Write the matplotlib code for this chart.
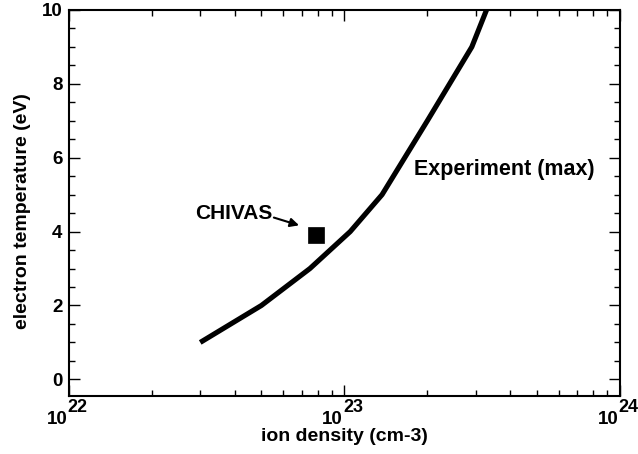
import matplotlib
matplotlib.use("Agg")
import matplotlib.pyplot as plt
from matplotlib.ticker import MultipleLocator, LogLocator, NullFormatter

plt.rcParams['font.family'] = ['Liberation Sans', 'DejaVu Sans']
plt.rcParams['font.weight'] = 'bold'

# experiment (max) curve
density = [3.0e22, 5.0e22, 7.5e22, 1.05e23, 1.37e23, 2.0e23, 2.9e23, 3.36e23]
temperature = [1.0, 2.0, 3.0, 4.0, 5.0, 7.0, 9.0, 10.2]

# CHIVAS point
chivas_density = [7.9e22]
chivas_temp = [3.91]

xtick_vals = [1e22, 1e23, 1e24]
xtick_exps = ['22', '23', '24']

fig = plt.figure(figsize=(6.38, 4.54), dpi=100)
ax = fig.add_axes([0.1077, 0.1278, 0.8641, 0.8502])

ax.plot(density, temperature, color='black', lw=3.7, solid_capstyle='butt')
ax.plot(chivas_density, chivas_temp, marker='s', ms=11.5, mew=0.5,
        color='black', ls='none')

ax.set_xscale('log')
ax.set_xlim(1e22, 1e24)
ax.set_ylim(-0.45, 10)
ax.set_xticks(xtick_vals)
ax.set_xticklabels(['' for _ in xtick_vals])
ax.xaxis.set_minor_locator(LogLocator(base=10, subs=range(2, 10)))
ax.xaxis.set_minor_formatter(NullFormatter())
ax.yaxis.set_major_locator(MultipleLocator(2))
ax.yaxis.set_minor_locator(MultipleLocator(0.5))

ax.tick_params(which='both', direction='in', top=True, right=True, width=1.0)
ax.tick_params(which='major', length=8, labelsize=13.5, pad=4.5)
ax.tick_params(which='minor', length=4.5)
for s in ax.spines.values():
    s.set_linewidth(1.5)

# 10^N labels with a full-size exponent
for v, e in zip(xtick_vals, xtick_exps):
    ax.annotate('10', xy=(v, 0), xycoords=('data', 'axes fraction'),
                xytext=(-1, -20), textcoords='offset points',
                ha='right', va='baseline', fontsize=13.5, fontweight='bold',
                annotation_clip=False)
    ax.annotate(e, xy=(v, 0), xycoords=('data', 'axes fraction'),
                xytext=(-1, -11.5), textcoords='offset points',
                ha='left', va='baseline', fontsize=13, fontweight='bold',
                annotation_clip=False)

ax.set_xlabel('ion density (cm-3)', fontsize=14, fontweight='bold')
ax.xaxis.set_label_coords(0.5, -0.083)
ax.set_ylabel('electron temperature (eV)', fontsize=14, fontweight='bold')
ax.yaxis.set_label_coords(-0.068, 0.48)

ax.text(1.79e23, 5.68, 'Experiment (max)', fontsize=15.5, fontweight='bold',
        va='center')
ax.text(2.87e22, 4.5, 'CHIVAS', fontsize=15, fontweight='bold', va='center')
ax.annotate('', xy=(6.85e22, 4.17), xytext=(5.55e22, 4.38),
            arrowprops=dict(arrowstyle='-|>', color='black', lw=1.5,
                            shrinkA=0, shrinkB=0, mutation_scale=13))

fig.savefig('out.png', dpi=100)
